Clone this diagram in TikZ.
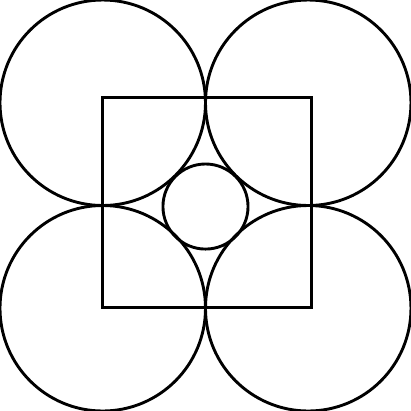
\documentclass[tikz,border=0pt]{standalone}
\usepackage{amsmath,amssymb}
\usepackage{tikz}

\begin{document}
\begin{tikzpicture}[scale = 1, line width = .8pt]
\useasboundingbox (-2,-2) rectangle (2,2);
\draw (-1,1) circle (1);
\draw (1,1) circle (1);
\draw (-1,-1) circle (1);
\draw (1,-1) circle (1);
\draw (-1,-.99) -- (1.03,-.99) -- (1.03,1.05) -- (-1,1.05) -- cycle;
\draw (0,-.01) circle (.414);
\end{tikzpicture}
\end{document}
